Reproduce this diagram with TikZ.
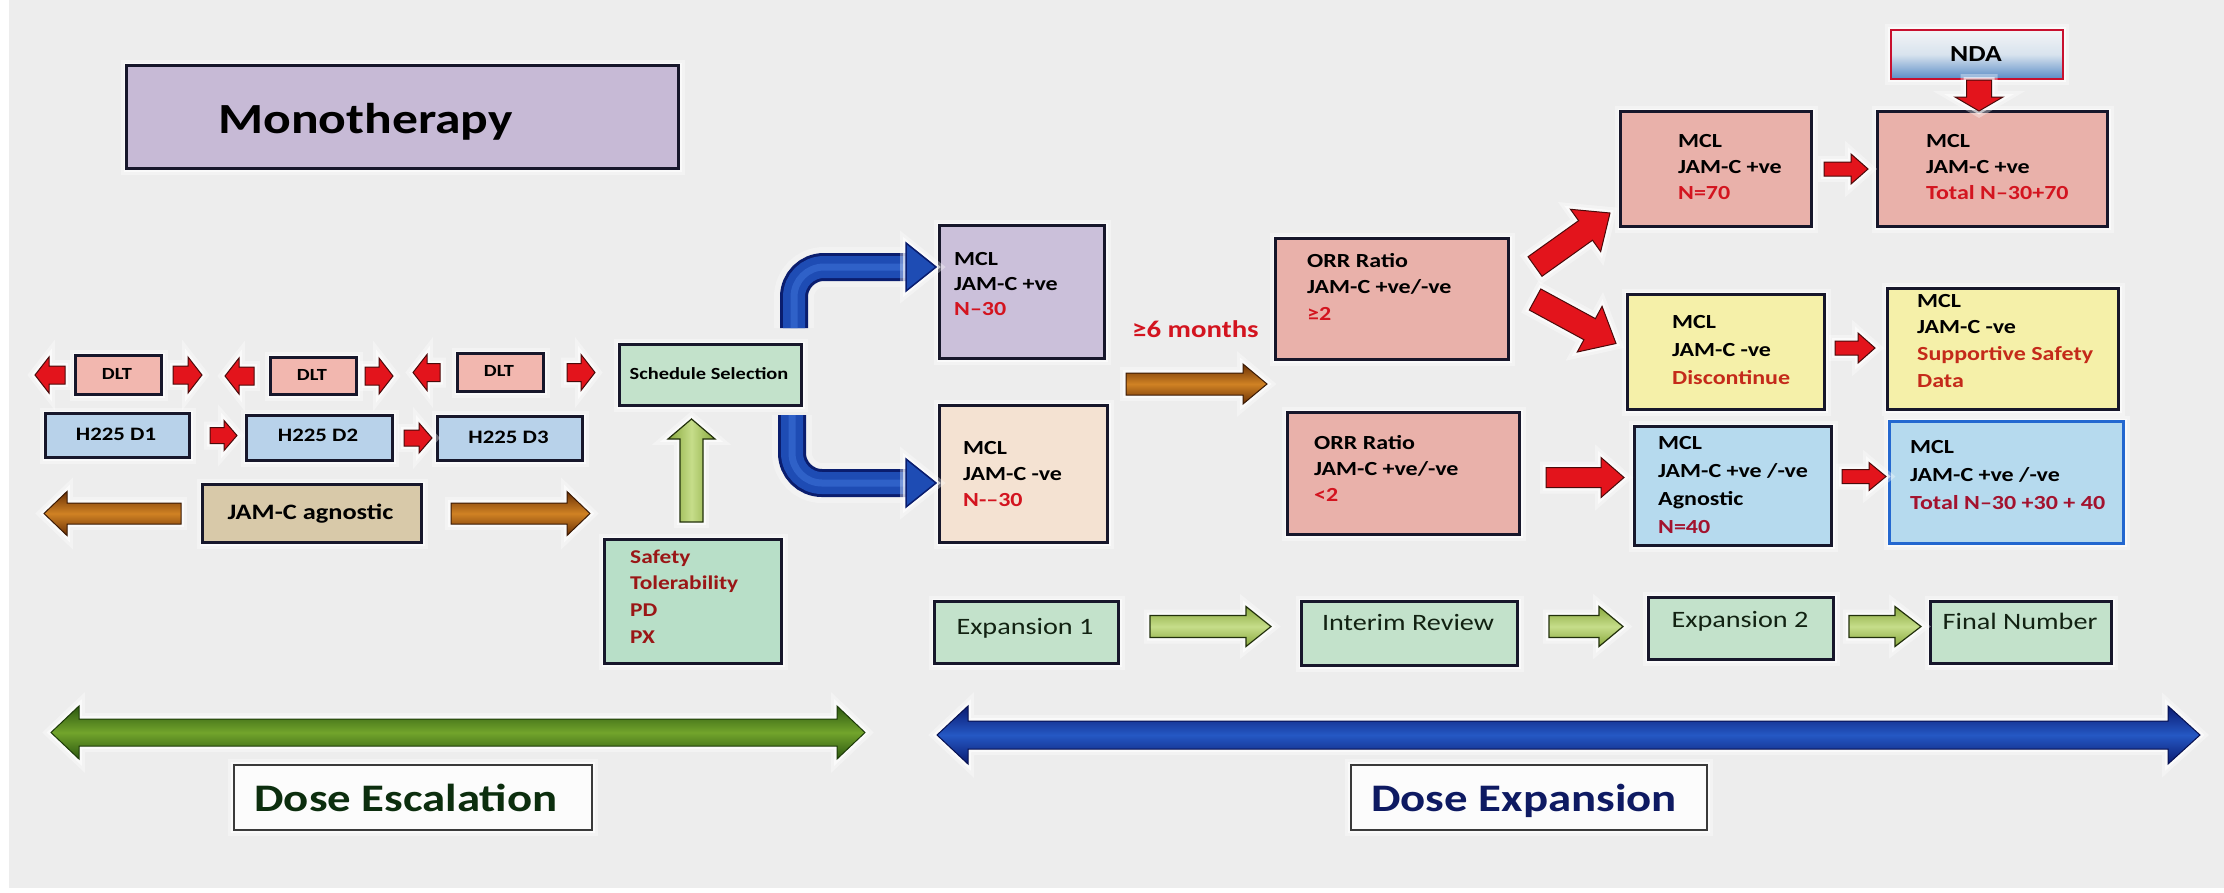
\documentclass[tikz,border=0pt]{standalone}
\usepackage{fontspec}
\setmainfont{Carlito}[FakeStretch=1.2]
\usetikzlibrary{calc}
\definecolor{bg}{HTML}{EDEDED}
\definecolor{bord}{HTML}{17172B}
\definecolor{lav}{HTML}{C7BAD6}
\definecolor{lav2}{HTML}{CBC0DA}
\definecolor{dltc}{HTML}{F2B7AF}
\definecolor{lblue}{HTML}{B8D2EA}
\definecolor{tanc}{HTML}{D8C9A9}
\definecolor{lgreen}{HTML}{C3E2CB}
\definecolor{lgreen2}{HTML}{B8DFC8}
\definecolor{peach}{HTML}{F4E2D2}
\definecolor{salmon}{HTML}{E9B1AA}
\definecolor{lyellow}{HTML}{F5F0A9}
\definecolor{sky}{HTML}{B6DAEE}
\definecolor{bbord}{HTML}{2468D0}
\definecolor{tred}{HTML}{D3141F}
\definecolor{ored}{HTML}{C42A1A}
\definecolor{cred}{HTML}{A3122E}
\definecolor{sred}{HTML}{9A1616}
\definecolor{dgreen}{HTML}{0C2E0E}
\definecolor{dnavy}{HTML}{0E1A62}
\definecolor{exptxt}{HTML}{122212}
\definecolor{arrred}{HTML}{E3141C}
\definecolor{arrredD}{HTML}{4A0A0A}
\definecolor{brownA}{HTML}{6A3005}
\definecolor{brownB}{HTML}{D08224}
\definecolor{brownD}{HTML}{3A1A05}
\definecolor{gA}{HTML}{88A83C}
\definecolor{gB}{HTML}{C6DD8A}
\definecolor{gD}{HTML}{22300C}
\definecolor{blueD}{HTML}{0A1D6E}
\definecolor{blueM}{HTML}{1E4CB4}
\definecolor{blueL}{HTML}{3B6FD6}
\definecolor{greenA}{HTML}{2C5810}
\definecolor{greenB}{HTML}{72A42C}
\definecolor{greenD}{HTML}{1C3A08}
\definecolor{bbA}{HTML}{0A1A70}
\definecolor{bbB}{HTML}{2558C4}
\definecolor{bbD}{HTML}{061050}
\definecolor{ndaTop}{HTML}{F3F4F6}
\definecolor{ndaMid}{HTML}{D8E3EE}
\definecolor{ndaBot}{HTML}{5A8CC6}
\definecolor{ndaBord}{HTML}{C8102E}
\definecolor{doseBord}{HTML}{3A3A3A}

\newcommand\bx[6]{\node[#2, anchor=north west, minimum width={#5-#3}, minimum height={#6-#4}] (#1) at (#3,-#4) {};}
\newcommand\mlines[6][t20]{\foreach \mcol/\mtxt [count=\mi] in {#6}{\node[#1, text=\mcol, anchor=base west] (#2-\mi) at (#3,{-(#4)-(\mi-1)*(#5)}) {\mtxt};}}
\newcommand\barrow[6][redarr]{%
  \draw[#1] let \p1=#2, \p2=#3, \n1={atan2(\y2-(\y1),\x2-(\x1))}, \n2={veclen(\x2-(\x1),\y2-(\y1))} in
    ($(\p1)+(\n1+90:#4)$) -- ($(\p1)+(\n1:\n2-#6)+(\n1+90:#4)$) -- ($(\p1)+(\n1:\n2-#6)+(\n1+90:#5)$) -- (\p2)
    -- ($(\p1)+(\n1:\n2-#6)+(\n1-90:#5)$) -- ($(\p1)+(\n1:\n2-#6)+(\n1-90:#4)$) -- ($(\p1)+(\n1-90:#4)$) -- cycle;}

\tikzset{
  glow/.style={preaction={draw=white, line width=12pt, draw opacity=0.35}, preaction={draw=white, line width=6pt, draw opacity=0.6}},
  box/.style={draw=bord, line width=3pt, inner sep=0pt, glow},
  dosebox/.style={draw=doseBord, line width=2pt, fill=white!98!gray, inner sep=0pt, glow},
  ndabox/.style={draw=ndaBord, line width=2pt, top color=ndaTop, bottom color=ndaBot, middle color=ndaMid, inner sep=0pt, glow},
  t20/.style={font=\fontsize{20}{24}\selectfont\bfseries, inner sep=0pt},
  t19/.style={font=\fontsize{19.5}{24}\selectfont\bfseries, inner sep=0pt},
  t17/.style={font=\fontsize{17}{20}\selectfont\bfseries, inner sep=0pt, anchor=base},
  t19c/.style={font=\fontsize{19}{22}\selectfont\bfseries, inner sep=0pt, anchor=base},
  t22/.style={font=\fontsize{22}{26}\selectfont\bfseries, inner sep=0pt, anchor=base},
  t23/.style={font=\fontsize{23}{26}\selectfont\bfseries, inner sep=0pt, anchor=base},
  t24r/.style={font=\fontsize{23.5}{26}\selectfont, text=exptxt, inner sep=0pt, anchor=base},
  t24/.style={font=\fontsize{24}{28}\selectfont\bfseries, inner sep=0pt},
  t39/.style={font=\fontsize{39}{44}\selectfont\bfseries, inner sep=0pt, anchor=base},
  t43/.style={font=\fontsize{43}{48}\selectfont\bfseries, inner sep=0pt},
  redarr/.style={fill=arrred, draw=arrredD, line width=1pt, glow},
  brownarr/.style={top color=brownA, bottom color=brownA, middle color=brownB, draw=brownD, line width=1pt, glow},
  greenarr/.style={top color=gA, bottom color=gA, middle color=gB, draw=gD, line width=1.2pt, glow},
  greenarrv/.style={left color=gA, right color=gA, middle color=gB, draw=gD, line width=1.2pt, glow},
}

\begin{document}
\begin{tikzpicture}[x=1pt,y=1pt]
\useasboundingbox (0,0) rectangle (2224,-892);
\fill[white] (0,0) rectangle (2224,-892);
\fill[bg] (9,0) rectangle (2224,-888);

% big double arrows
\draw[top color=greenA, bottom color=greenA, middle color=greenB, draw=greenD, line width=1pt, glow]
  (51,-732.5) -- (79,-706) -- (79,-719) -- (837,-719) -- (837,-706) -- (865,-732.5) -- (837,-759) -- (837,-746) -- (79,-746) -- (79,-759) -- cycle;
\draw[top color=bbA, bottom color=bbA, middle color=bbB, draw=bbD, line width=1pt, glow]
  (937,-735) -- (968,-706) -- (968,-721) -- (2168,-721) -- (2168,-706) -- (2200,-735) -- (2168,-764) -- (2168,-749) -- (968,-749) -- (968,-764) -- cycle;

% Monotherapy
\bx{mono}{box, fill=lav}{125}{64}{677}{167}
\node[t43, anchor=base west] (monot) at (218,-133) {Monotherapy};

% DLT row
\bx{dlt1}{box, fill=dltc}{74}{354}{160}{393}
\bx{dlt2}{box, fill=dltc}{269}{356}{355}{393}
\bx{dlt3}{box, fill=dltc}{456}{352}{542}{390}
\node[t17] (dlt1t) at (117,-379) {DLT};
\node[t17] (dlt2t) at (312,-380) {DLT};
\node[t17] (dlt3t) at (499,-376.5) {DLT};

% H225 row
\bx{h1}{box, fill=lblue}{44}{412}{188}{456}
\bx{h2}{box, fill=lblue}{245}{414}{391}{459}
\bx{h3}{box, fill=lblue}{436}{415}{581}{459}
\node[t19c] (h1t) at (116,-440) {H225 D1};
\node[t19c] (h2t) at (318,-441) {H225 D2};
\node[t19c] (h3t) at (508.5,-443) {H225 D3};

% JAM-C agnostic
\bx{jam}{box, fill=tanc}{201}{483}{420}{541}
\node[t22] (jamt) at (310.5,-519) {JAM-C agnostic};

% Schedule selection and safety
\bx{sched}{box, fill=lgreen}{618}{343}{800}{404}
\node[t17] (schedt) at (709,-379) {Schedule Selection};
\bx{saf}{box, fill=lgreen2}{603}{538}{780}{662}
\mlines[t19]{saft}{630}{563}{26.7}{sred/Safety,sred/Tolerability,sred/PD,sred/PX}

% MCL boxes
\bx{mcl1}{box, fill=lav2}{938}{224}{1103}{357}
\mlines{mcl1t}{954}{265}{25}{black/MCL,black/{JAM-C +ve},tred/{N–30}}
\bx{mcl2}{box, fill=peach}{938}{404}{1106}{541}
\mlines{mcl2t}{963}{454}{26}{black/MCL,black/{JAM-C -ve},tred/{N-–30}}

\node[t24, text=tred, anchor=base west] (months) at (1132,-337) {≥6 months};

% ORR boxes
\bx{orr1}{box, fill=salmon}{1274}{237}{1507}{358}
\mlines{orr1t}{1307}{267}{26.5}{black/{ORR Ratio},black/{JAM-C +ve/-ve},tred/{≥2}}
\bx{orr2}{box, fill=salmon}{1286}{411}{1518}{533}
\mlines{orr2t}{1314}{449}{26}{black/{ORR Ratio},black/{JAM-C +ve/-ve},tred/{<2}}

% top right
\bx{n70}{box, fill=salmon}{1619}{110}{1810}{225}
\mlines{n70t}{1678}{147}{26}{black/MCL,black/{JAM-C +ve},tred/{N=70}}
\bx{t70}{box, fill=salmon}{1876}{110}{2106}{225}
\mlines{t70t}{1926}{147}{26}{black/MCL,black/{JAM-C +ve},tred/{Total N–30+70}}
\bx{nda}{ndabox}{1890}{29}{2062}{78}
\node[t23] (ndat) at (1976,-61) {NDA};

\bx{disc}{box, fill=lyellow}{1626}{293}{1823}{408}
\mlines{disct}{1672}{328}{28}{black/MCL,black/{JAM-C -ve},ored/Discontinue}
\bx{supp}{box, fill=lyellow}{1886}{287}{2117}{408}
\mlines{suppt}{1917}{307}{26.7}{black/MCL,black/{JAM-C -ve},ored/{Supportive Safety},ored/Data}

\bx{agn}{box, fill=sky}{1633}{425}{1830}{544}
\mlines{agnt}{1658}{449}{28}{black/MCL,black/{JAM-C +ve /-ve},black/Agnostic,cred/{N=40}}
\bx{t3}{box, fill=sky, draw=bbord}{1888}{420}{2122}{542}
\mlines{t3t}{1910}{453}{28}{black/MCL,black/{JAM-C +ve /-ve},cred/{Total N–30 +30 + 40}}

% expansion row
\bx{exp1}{box, fill=lgreen}{933}{600}{1117}{662}
\bx{int}{box, fill=lgreen}{1300}{600}{1516}{664}
\bx{exp2}{box, fill=lgreen}{1647}{596}{1832}{658}
\bx{fin}{box, fill=lgreen}{1929}{600}{2110}{662}
\node[t24r] (exp1t) at (1025,-634) {Expansion 1};
\node[t24r] (intt) at (1408,-630) {Interim Review};
\node[t24r] (exp2t) at (1740,-627) {Expansion 2};
\node[t24r] (fint) at (2020,-629) {Final Number};

% dose boxes
\bx{desc}{dosebox}{233}{764}{591}{829}
\node[t39, text=dgreen] (desct) at (406,-811) {Dose Escalation};
\bx{dexp}{dosebox}{1350}{764}{1706}{829}
\node[t39, text=dnavy] (dexpt) at (1524,-811) {Dose Expansion};

% DLT arrows
\barrow{($(dlt1.west)+(-9,0)$)}{($(dlt1.west)+(-39,0)$)}{9}{18}{14}
\barrow{($(dlt1.east)+(10,0)$)}{($(dlt1.east)+(39,0)$)}{9}{18}{14}
\barrow{($(dlt2.west)+(-15,0)$)}{($(dlt2.west)+(-44,0)$)}{9}{18}{14}
\barrow{($(dlt2.east)+(7,0)$)}{($(dlt2.east)+(35,0)$)}{9}{18}{14}
\barrow{($(dlt3.west)+(-16,0)$)}{($(dlt3.west)+(-43,0)$)}{9}{18}{14}
\barrow{($(dlt3.east)+(22,0)$)}{($(dlt3.east)+(50,0)$)}{9}{18}{14}
% H225 arrows
\barrow{($(h1.east)+(19,0)$)}{($(h1.east)+(46,0)$)}{8}{15}{13}
\barrow{($(h2.east)+(10,0)$)}{($(h2.east)+(38,0)$)}{8}{15}{13}
% brown arrows
\barrow[brownarr]{($(jam.west)+(-20,0)$)}{($(jam.west)+(-157,0)$)}{10.5}{22}{23}
\barrow[brownarr]{($(jam.east)+(28,0)$)}{($(jam.east)+(167,0)$)}{10.5}{22}{23}
% safety -> schedule
\barrow[greenarrv]{($(saf.north)+(-1.5,16)$)}{($(sched.south)+(-19,-12)$)}{11.5}{23.5}{20}
% blue bent arrows
\coordinate (bu0) at ($(sched.north east)+(-9,15)$);
\coordinate (bu1) at ($(mcl1.north west)+(-2,-43)$);
\coordinate (bl0) at ($(sched.south east)+(-11,-8)$);
\coordinate (bl1) at ($(mcl2.north west)+(-2,-79)$);
\foreach \s/\e in {bu0/bu1, bl0/bl1}{
  \draw[white, line width=40pt, draw opacity=0.3, rounded corners=30pt] (\s) |- ($(\e)+(-29,0)$);
  \draw[blueD, line width=28pt, rounded corners=30pt] (\s) |- ($(\e)+(-28,0)$);
  \draw[blueM, line width=22pt, rounded corners=30pt] (\s) |- ($(\e)+(-27,0)$);
  \draw[blueL, line width=7pt, rounded corners=30pt, draw opacity=0.6] (\s) |- ($(\e)+(-28,0)$);
  \draw[fill=blueM, draw=blueD, line width=1.5pt, glow] ($(\e)+(-30,24)$) -- (\e) -- ($(\e)+(-30,-24)$) -- cycle;
}
% months arrow
\barrow[brownarr]{($(mcl1.south east)+(20,-24)$)}{($(orr1.south west)+(-7,-23)$)}{11}{20}{24}
% diagonal red arrows
\barrow{($(orr1.east)+(25,32.5)$)}{($(n70.south west)+(-9,15)$)}{12}{26}{30}
\barrow{($(orr1.east)+(25,-0.5)$)}{($(disc.west)+(-10,8.5)$)}{12}{26}{30}
% right side small arrows
\barrow{($(n70.east)+(11,0)$)}{($(n70.east)+(55,0)$)}{7}{15}{17}
\barrow{($(nda.south)+(2,0)$)}{($(nda.south)+(2,-31)$)}{12.5}{24}{14}
\barrow{($(disc.east)+(9,4)$)}{($(disc.east)+(49,4)$)}{7}{15}{17}
\barrow{($(orr2.east)+(25,-4)$)}{($(orr2.east)+(103,-4)$)}{10}{20}{23}
\barrow{($(agn.east)+(9,9.5)$)}{($(agn.east)+(53,9.5)$)}{7}{14}{17}
% expansion row arrows
\barrow[greenarr]{($(exp1.east)+(30,6)$)}{($(exp1.east)+(151,6)$)}{11}{20}{25}
\barrow[greenarr]{($(int.east)+(30,7)$)}{($(int.east)+(104,7)$)}{11}{20}{24}
\barrow[greenarr]{($(exp2.east)+(14,2)$)}{($(exp2.east)+(86,2)$)}{11}{20}{26}
\end{tikzpicture}
\end{document}
